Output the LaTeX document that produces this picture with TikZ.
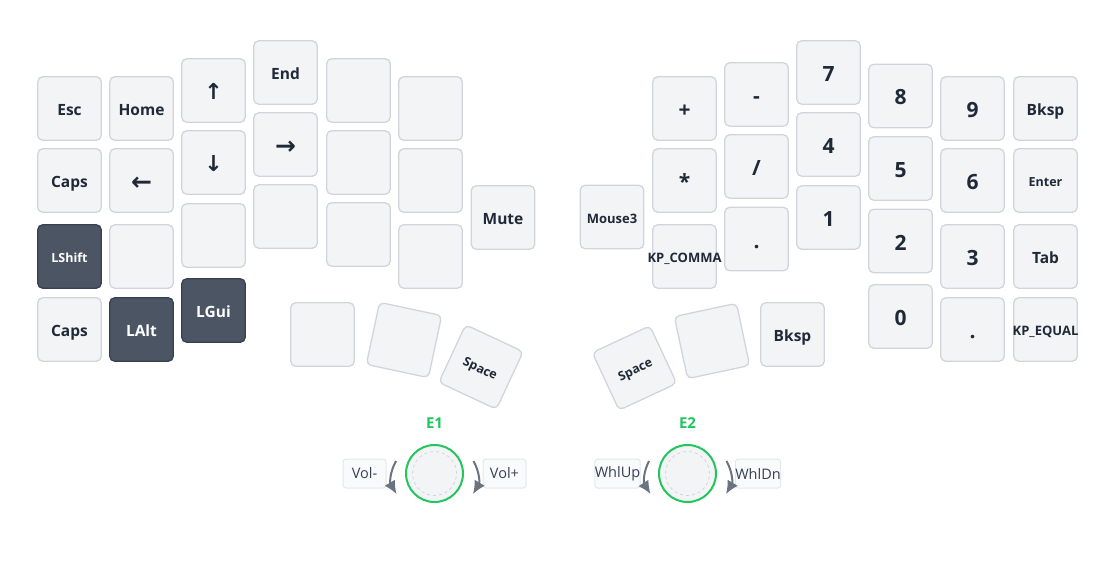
\documentclass[tikz,border=0pt]{standalone}
\usepackage{fontspec}
\setmainfont{Open Sans}
\newfontfamily\arrowfont{DejaVu Sans}
\usetikzlibrary{arrows.meta}
\definecolor{keyfill}{HTML}{F3F4F6}
\definecolor{keyline}{HTML}{D1D5DB}
\definecolor{heldfill}{HTML}{4B5563}
\definecolor{heldline}{HTML}{374151}
\definecolor{keytext}{HTML}{1F2937}
\definecolor{encgreen}{HTML}{22C55E}
\definecolor{turngray}{HTML}{6B7280}
\definecolor{boxfill}{HTML}{F9FAFB}
\definecolor{boxline}{HTML}{E5E7EB}
\definecolor{boxtext}{HTML}{374151}
\tikzset{>=latex}
\tikzset{
	key/.style={draw=keyline, fill=keyfill, line width=1.3pt, rounded corners=5pt,
		minimum size=63.5pt, inner sep=0pt, text=keytext, text height=14.1pt, text depth=0pt,
		font=\bfseries\fontsize{15.5}{15.5}\selectfont},
	held/.style={key, draw=heldline, fill=heldfill, text=white},
	big/.style={font=\bfseries\fontsize{21}{21}\selectfont, text height=18pt},
	tiny/.style={font=\bfseries\fontsize{12.5}{12.5}\selectfont, text height=11.9pt},
	kplabel/.style={font=\bfseries\fontsize{13}{13}\selectfont, text height=12.3pt},
	vkey/.style={font=\arrowfont\bfseries\fontsize{22}{22}\selectfont, text height=18.8pt},
	hkey/.style={font=\arrowfont\bfseries\fontsize{25}{25}\selectfont, text height=20pt},
	thumbtext/.style={font=\bfseries\fontsize{12.5}{12.5}\selectfont, text height=11.9pt},
	knob/.style={circle, draw=encgreen, fill=keyfill, line width=2pt, minimum size=57pt, inner sep=0pt},
	knobring/.style={draw=keyline, dashed, line width=0.8pt},
	enctitle/.style={text=encgreen, font=\bfseries\fontsize{15}{15}\selectfont},
	actbox/.style={draw=boxline, fill=boxfill, line width=1pt, rounded corners=3pt,
		minimum width=43pt, minimum height=29pt, inner sep=0pt, text=boxtext,
		font=\fontsize{14.5}{14.5}\selectfont},
	turn/.style={draw=turngray, line width=2pt, -{Latex[length=13pt,width=12pt]}},
}
\begin{document}
\begin{tikzpicture}[x=1pt,y=-1pt]
	%\draw[help lines] (0,0) grid (1112,578);
	\useasboundingbox (0,0) rectangle (1112,578);
	% left half
	\node[key] (esc) at (69.5,108.5) {Esc};
	\node[key] (capsa) at (69.5,180.5) {Caps};
	\node[held, tiny] (lshift) at (69.5,256.5) {LShift};
	\node[key] (capsb) at (69.5,329.5) {Caps};
	\node[key] (home) at (141.5,108.5) {Home};
	\node[key, hkey] (larrow) at (141.5,180.5) {←};
	\node[key] (lb3) at (141.5,256.5) {};
	\node[held] (lalt) at (141.5,329.5) {LAlt};
	\node[key, vkey] (uarrow) at (213.5,90.5) {↑};
	\node[key, vkey] (darrow) at (213.5,162.5) {↓};
	\node[key] (lc3) at (213.5,235.5) {};
	\node[held] (lgui) at (213.5,310.5) {LGui};
	\node[key] (end) at (285.5,72.5) {End};
	\node[key, hkey] (rarrow) at (285.5,144.5) {→};
	\node[key] (ld3) at (285.5,216.5) {};
	\node[key] (le1) at (358.5,90.5) {};
	\node[key] (le2) at (358.5,162.5) {};
	\node[key] (le3) at (358.5,234.5) {};
	\node[key] (lf1) at (430.5,108.5) {};
	\node[key] (lf2) at (430.5,180.5) {};
	\node[key] (lf3) at (430.5,256.5) {};
	\node[key] (mute) at (503,217.5) {Mute};
	\node[key] (lt1) at (322.5,334.5) {};
	\node[key, rotate=-12] (lt2) at (404,340) {};
	\node[key, thumbtext, rotate=-25] (lspace) at (481,367) {Space};
	% right half
	\node[key, kplabel] (mouse3) at (612,217) {Mouse3};
	\node[key, big] (plus) at (684.5,108.5) {+};
	\node[key, big] (star) at (684.5,180.5) {*};
	\node[key, kplabel] (kpcomma) at (684.5,256.5) {\makebox[0pt]{KP\_COMMA}};
	\node[key, big] (minus) at (756.5,94.5) {-};
	\node[key, big] (slash) at (756.5,166.5) {/};
	\node[key, big] (dota) at (756.5,239) {.};
	\node[key, big] (seven) at (828.5,72.5) {7};
	\node[key, big] (four) at (828.5,144.5) {4};
	\node[key, big] (one) at (828.5,217.5) {1};
	\node[key, big] (eight) at (900.5,96) {8};
	\node[key, big] (five) at (900.5,168.5) {5};
	\node[key, big] (two) at (900.5,241) {2};
	\node[key, big] (zero) at (900.5,316.5) {0};
	\node[key, big] (nine) at (972.5,108.5) {9};
	\node[key, big] (six) at (972.5,180.5) {6};
	\node[key, big] (three) at (972.5,256.5) {3};
	\node[key, big] (dotb) at (972.5,329.5) {.};
	\node[key] (bksp) at (1045.5,108.5) {Bksp};
	\node[key, tiny] (enter) at (1045.5,180.5) {Enter};
	\node[key] (tab) at (1045.5,256.5) {Tab};
	\node[key, kplabel] (kpequal) at (1045.5,329.5) {\makebox[0pt]{KP\_EQUAL}};
	\node[key] (rbksp) at (792.5,334.5) {Bksp};
	\node[key, rotate=12] (rt2) at (712,341) {};
	\node[key, thumbtext, rotate=25] (rspace) at (634.5,368) {Space};
	% encoders
	\node[knob] (e1) at (434.5,473.5) {};
	\draw[knobring] (e1.center) circle (22pt);
	\node[enctitle] (e1name) at (434.5,423) {E1};
	\node[actbox] (voldn) at (364.5,473.5) {Vol-};
	\node[actbox] (volup) at (504.5,473.5) {Vol+};
	\coordinate (e1a) at (396,461);
	\coordinate (e1b) at (396.5,494);
	\coordinate (e1c) at (473.5,461);
	\coordinate (e1d) at (473,494);
	\draw[turn] (e1a) to[bend right=30] (e1b);
	\draw[turn] (e1c) to[bend left=30] (e1d);
	\node[knob] (e2) at (687.5,473.5) {};
	\draw[knobring] (e2.center) circle (22pt);
	\node[enctitle] (e2name) at (687.5,423) {E2};
	\node[actbox] (whlup) at (617.5,473.5) {WhlUp};
	\node[actbox] (whldn) at (758,473.5) {WhlDn};
	\coordinate (e2a) at (649,461);
	\coordinate (e2b) at (650.5,494);
	\coordinate (e2c) at (726.5,461);
	\coordinate (e2d) at (726,494);
	\draw[turn] (e2a) to[bend right=30] (e2b);
	\draw[turn] (e2c) to[bend left=30] (e2d);
\end{tikzpicture}
\end{document}
